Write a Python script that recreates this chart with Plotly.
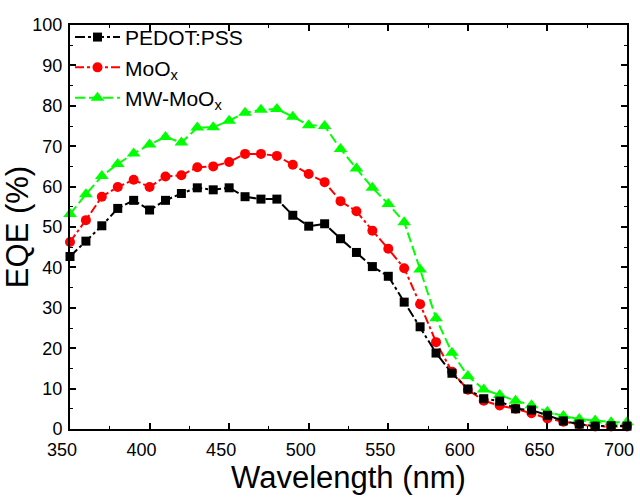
import plotly.graph_objects as go

# Wavelength grid (nm)
wavelength = [350, 360, 370, 380, 390, 400, 410, 420, 430, 440, 450, 460,
              470, 480, 490, 500, 510, 520, 530, 540, 550, 560, 570, 580,
              590, 600, 610, 620, 630, 640, 650, 660, 670, 680, 690, 700]

# EQE (%) for each hole-transport layer
eqe_pedot = [42.7, 46.5, 50.3, 54.6, 56.6, 54.2, 56.6, 58.3, 59.7, 59.2, 59.7, 57.5,
             56.9, 56.9, 52.9, 50.2, 50.8, 47.1, 43.7, 40.2, 37.8, 31.4, 25.3, 18.8,
             13.8, 9.9, 7.5, 6.9, 5.0, 4.7, 3.4, 2.0, 1.2, 0.7, 0.8, 0.7]
eqe_moox = [46.3, 51.7, 57.5, 59.9, 61.7, 59.9, 62.5, 62.8, 64.8, 65.0, 66.1, 68.1,
            68.1, 67.6, 65.4, 63.1, 61.1, 56.4, 53.9, 49.1, 44.6, 39.8, 30.9, 21.5,
            14.2, 9.7, 7.0, 5.8, 5.0, 3.9, 2.6, 1.8, 1.2, 0.6, 0.6, 0.6]
eqe_mw_moox = [53.2, 58.1, 62.6, 65.6, 68.2, 70.4, 72.3, 70.9, 74.6, 74.7, 76.3, 78.3,
               79.0, 79.2, 77.3, 75.2, 75.0, 69.3, 64.5, 59.7, 55.7, 51.2, 39.5, 27.4,
               18.9, 13.1, 9.8, 8.4, 7.0, 5.9, 4.3, 3.2, 2.5, 2.1, 1.7, 1.7]

x_ticks = [350, 400, 450, 500, 550, 600, 650, 700]
y_ticks = [0, 10, 20, 30, 40, 50, 60, 70, 80, 90, 100]

FONT = "Liberation Sans, Arial, sans-serif"

fig = go.Figure()

fig.add_trace(go.Scatter(
    x=wavelength, y=eqe_mw_moox, name="MW-MoO<sub>x</sub>", legendrank=3,
    mode="lines+markers", cliponaxis=False,
    line=dict(color="#00FF00", width=2, dash="10px,4px"),
    marker=dict(symbol="triangle-up", size=12, color="#00FF00"),
))
fig.add_trace(go.Scatter(
    x=wavelength, y=eqe_moox, name="MoO<sub>x</sub>", legendrank=2,
    mode="lines+markers", cliponaxis=False,
    line=dict(color="#FF0000", width=2, dash="9px,3px,3px,3px"),
    marker=dict(symbol="circle", size=10, color="#FF0000"),
))
fig.add_trace(go.Scatter(
    x=wavelength, y=eqe_pedot, name="PEDOT:PSS", legendrank=1,
    mode="lines+markers", cliponaxis=False,
    line=dict(color="#000000", width=2, dash="10px,3px,3px,3px"),
    marker=dict(symbol="square", size=9, color="#000000"),
))

axis_common = dict(
    showline=True, linecolor="black", linewidth=2, mirror="allticks",
    ticks="inside", ticklen=6, tickwidth=1.5, tickcolor="black",
    showgrid=False, zeroline=False, ticklabeloverflow="allow",
    automargin=False,
    tickfont=dict(family=FONT, size=18, color="black"),
)

fig.update_xaxes(
    range=[350, 700], tickvals=x_ticks, ticklabelstandoff=3, ticklabelshift=-8,
    minor=dict(dtick=25, ticks="inside", ticklen=3, tickwidth=1.2, tickcolor="black"),
    title=dict(text="Wavelength (nm)", font=dict(family=FONT, size=31, color="black"), standoff=6),
    **axis_common,
)
fig.update_yaxes(
    range=[0, 100], tickvals=y_ticks, ticklabelstandoff=2,
    minor=dict(dtick=5, ticks="inside", ticklen=3, tickwidth=1.2, tickcolor="black"),
    title=dict(text="EQE (%)", font=dict(family=FONT, size=31, color="black"), standoff=2),
    **axis_common,
)

fig.update_layout(
    width=640, height=497,
    margin=dict(l=70, r=13, t=25, b=68),
    paper_bgcolor="white", plot_bgcolor="white",
    showlegend=True,
    legend=dict(
        x=0.0, y=1.02, xanchor="left", yanchor="top",
        bgcolor="rgba(0,0,0,0)", borderwidth=0,
        font=dict(family=FONT, size=21, color="black"),
        itemwidth=45, tracegroupgap=0,
    ),
)

fig.write_html("out.html")
